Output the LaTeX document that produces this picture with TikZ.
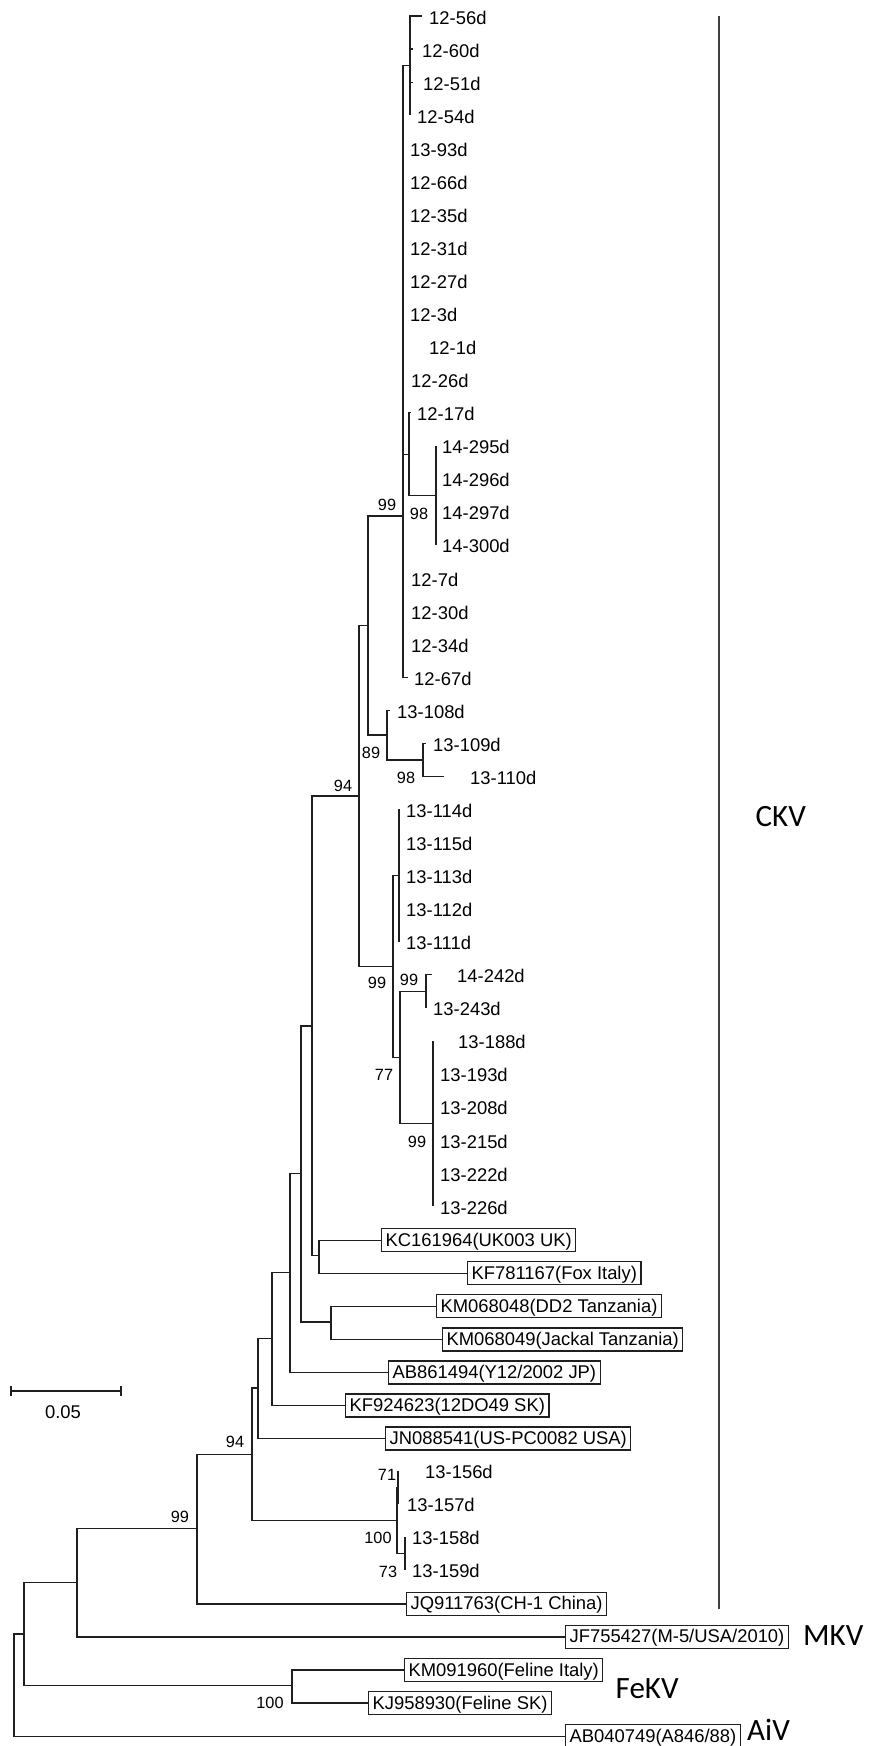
\documentclass[tikz,border=0pt]{standalone}
\usepackage{fontspec}
\setmainfont{Liberation Sans}
\newfontfamily\bigcladefont{Carlito}
\usetikzlibrary{calc}
\definecolor{treec}{gray}{0.12}
\newcommand\leaffont{\fontsize{18.4}{20}\selectfont}
\newcommand\bsfont{\fontsize{16.3}{18}\selectfont}
\newcommand\cladefont{\bigcladefont\fontsize{31}{34}\selectfont}
% plain leaf: name, parent, index, branch end x, text x, label
\newcommand\lf[6]{%
  \coordinate (#1) at (#4,{16+33.06*#3});
  \draw[edge] (#2) |- (#1);
  \node[leaf] (t#1) at (#5,{24+33.06*#3}) {#6};
}
% boxed leaf: name, parent, index, box left x, label
\newcommand\bx[5]{%
  \node[boxlab] (#1) at (#4,{17+33.06*#3}) {#5\hspace{4.5pt}};
  \draw[edge] (#2) |- (#1.west);
}
\begin{document}
\begin{tikzpicture}[x=1pt,y=-1pt,
  edge/.style={draw=treec, line width=1.2pt},
  leaf/.style={anchor=base west, inner sep=0pt, font=\leaffont},
  boxlab/.style={draw=treec, line width=1.2pt, anchor=west, font=\leaffont,
    inner xsep=4pt, inner ysep=1.5pt, text height=16pt, text depth=4pt},
  boot/.style={anchor=center, inner sep=0pt, font=\bsfont},
  clade/.style={anchor=base west, inner sep=0pt, font=\cladefont}]
\useasboundingbox (0,0) rectangle (872,1746);

% internal nodes
\coordinate (R) at (14,1684.6);
\coordinate (n24) at (24,1633.9);
\coordinate (n292) at (292,1685.5);
\coordinate (n77) at (77,1582.2);
\coordinate (n197) at (197,1528.5);
\coordinate (n252) at (252,1454.1);
\coordinate (n258) at (258,1388);
\coordinate (n272) at (272,1338.4);
\coordinate (n290) at (290,1272.6);
\coordinate (n301) at (301,1173.8);
\coordinate (n331) at (331,1321.9);
\coordinate (n312) at (312,1026);
\coordinate (n319) at (319,1255.7);
\coordinate (n359) at (359,796);
\coordinate (n368) at (368,625.6);
\coordinate (n387) at (387,735);
\coordinate (n423) at (423,759.9);
\coordinate (n403) at (403,516);
\coordinate (n410) at (410,65.6);
\coordinate (n409) at (409,454.3);
\coordinate (n436) at (436,495.4);
\coordinate (n393) at (393,966.5);
\coordinate (n399) at (399,875.6);
\coordinate (n400) at (400,1057.4);
\coordinate (n426) at (426,991.3);
\coordinate (n433) at (433,1123.5);
\coordinate (n397) at (397,1520.2);
\coordinate (n398) at (398,1487.2);
\coordinate (n405) at (405,1553.3);

% internal edges
\draw[edge] (R) |- (n24);
\draw[edge] (n24) |- (n77);
\draw[edge] (n24) |- (n292);
\draw[edge] (n77) |- (n197);
\draw[edge] (n197) |- (n252);
\draw[edge] (n252) |- (n258);
\draw[edge] (n252) |- (n397);
\draw[edge] (n258) |- (n272);
\draw[edge] (n272) |- (n290);
\draw[edge] (n290) |- (n301);
\draw[edge] (n301) |- (n312);
\draw[edge] (n301) |- (n331);
\draw[edge] (n312) |- (n359);
\draw[edge] (n312) |- (n319);
\draw[edge] (n359) |- (n368);
\draw[edge] (n359) |- (n393);
\draw[edge] (n368) |- (n403);
\draw[edge] (n368) |- (n387);
\draw[edge] (n387) |- (n423);
\draw[edge] (n403) |- (n410);
\draw[edge] (n403) |- (n409);
\draw[edge] (n409) |- (n436);
\draw[edge] (n393) |- (n399);
\draw[edge] (n393) |- (n400);
\draw[edge] (n400) |- (n426);
\draw[edge] (n400) |- (n433);
\draw[edge] (n397) |- (n398);
\draw[edge] (n397) |- (n405);

% leaves
\lf{l0}{n410}{0}{422}{429}{12-56d}
\lf{l1}{n410}{1}{413}{422}{12-60d}
\lf{l2}{n410}{2}{413}{423}{12-51d}
\lf{l3}{n410}{3}{410}{417}{12-54d}
\lf{l4}{n403}{4}{403}{410}{13-93d}
\lf{l5}{n403}{5}{403}{410}{12-66d}
\lf{l6}{n403}{6}{403}{410}{12-35d}
\lf{l7}{n403}{7}{403}{410}{12-31d}
\lf{l8}{n403}{8}{403}{410}{12-27d}
\lf{l9}{n403}{9}{403}{410}{12-3d}
\lf{l10}{n403}{10}{403}{429}{12-1d}
\lf{l11}{n403}{11}{403}{411}{12-26d}
\lf{l12}{n409}{12}{411}{417}{12-17d}
\lf{l13}{n436}{13}{436}{442}{14-295d}
\lf{l14}{n436}{14}{436}{442}{14-296d}
\lf{l15}{n436}{15}{436}{442}{14-297d}
\lf{l16}{n436}{16}{436}{442}{14-300d}
\lf{l17}{n403}{17}{403}{411}{12-7d}
\lf{l18}{n403}{18}{403}{411}{12-30d}
\lf{l19}{n403}{19}{403}{411}{12-34d}
\lf{l20}{n403}{20}{408}{414}{12-67d}
\lf{l21}{n387}{21}{390}{397}{13-108d}
\lf{l22}{n423}{22}{426}{433}{13-109d}
\lf{l23}{n423}{23}{444}{470}{13-110d}
\lf{l24}{n399}{24}{399}{406}{13-114d}
\lf{l25}{n399}{25}{399}{406}{13-115d}
\lf{l26}{n399}{26}{399}{406}{13-113d}
\lf{l27}{n399}{27}{399}{406}{13-112d}
\lf{l28}{n399}{28}{399}{406}{13-111d}
\lf{l29}{n426}{29}{432}{457}{14-242d}
\lf{l30}{n426}{30}{426}{433}{13-243d}
\lf{l31}{n433}{31}{433}{458}{13-188d}
\lf{l32}{n433}{32}{433}{440}{13-193d}
\lf{l33}{n433}{33}{433}{440}{13-208d}
\lf{l34}{n433}{34}{433}{440}{13-215d}
\lf{l35}{n433}{35}{433}{440}{13-222d}
\lf{l36}{n433}{36}{433}{440}{13-226d}
\bx{l37}{n319}{37}{381}{KC161964(UK003 UK)}
\bx{l38}{n319}{38}{467}{KF781167(Fox Italy)}
\bx{l39}{n331}{39}{436}{KM068048(DD2 Tanzania)}
\bx{l40}{n331}{40}{442}{KM068049(Jackal Tanzania)}
\bx{l41}{n290}{41}{388}{AB861494(Y12/2002 JP)}
\bx{l42}{n272}{42}{345}{KF924623(12DO49 SK)}
\bx{l43}{n258}{43}{385}{JN088541(US-PC0082 USA)}
\lf{l44}{n398}{44}{398}{425}{13-156d}
\lf{l45}{n398}{45}{398}{407}{13-157d}
\lf{l46}{n405}{46}{405}{412}{13-158d}
\lf{l47}{n405}{47}{405}{412}{13-159d}
\bx{l48}{n197}{48}{406}{JQ911763(CH-1 China)}
\bx{l49}{n77}{49}{565}{JF755427(M-5/USA/2010)}
\bx{l50}{n292}{50}{404}{KM091960(Feline Italy)}
\bx{l51}{n292}{51}{368}{KJ958930(Feline SK)}
\bx{l52}{R}{52}{565}{AB040749(A846/88)}

% thicker stacked segments
\draw[edge, line width=2.2pt] (l10) -- (l19);
\draw[edge, line width=2pt] (n398) -- (l45);

% bootstrap values
\node[boot] (b1) at (387,505) {99};
\node[boot] (b2) at (419,514) {98};
\node[boot] (b3) at (371,753) {89};
\node[boot] (b4) at (406,778) {98};
\node[boot] (b5) at (343,786) {94};
\node[boot] (b6) at (377,983) {99};
\node[boot] (b7) at (409,980) {99};
\node[boot] (b8) at (384,1075) {77};
\node[boot] (b9) at (417,1142) {99};
\node[boot] (b10) at (235,1442) {94};
\node[boot] (b11) at (387,1475) {71};
\node[boot] (b12) at (378,1538) {100};
\node[boot] (b13) at (388,1572) {73};
\node[boot] (b14) at (180,1517) {99};
\node[boot] (b15) at (270,1703) {100};

% scale bar
\coordinate (sb1) at (11,1391);
\coordinate (sb2) at (121,1391);
\draw[edge] (sb1) -- (sb2);
\draw[edge] ($(sb1)+(0,-5)$) -- ($(sb1)+(0,5)$);
\draw[edge] ($(sb2)+(0,-5)$) -- ($(sb2)+(0,5)$);
\node[anchor=center, inner sep=0pt, font=\leaffont] (sbl) at (63,1412) {0.05};

% clade bar and names
\coordinate (ckvtop) at (719,16);
\coordinate (ckvbot) at (719,1609);
\draw[draw=black!75, line width=1.6pt] (ckvtop) -- (ckvbot);
\node[clade] (ckv) at (755.5,826) {CKV};
\node[clade] (mkv) at (803,1645) {MKV};
\node[clade] (fekv) at (615.5,1698) {FeKV};
\node[clade] (aiv) at (747,1740) {AiV};
\end{tikzpicture}
\end{document}
